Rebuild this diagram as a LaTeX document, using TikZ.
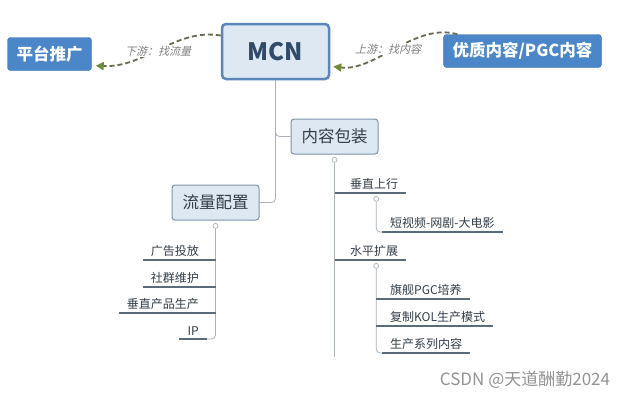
\documentclass[tikz,border=0pt]{standalone}
\usepackage{fontspec}
\setmainfont{Noto Sans CJK SC}
\newfontfamily\slantfont{Noto Sans CJK SC}[FakeSlant=0.25]
\usepackage{xcolor}
\usetikzlibrary{arrows.meta,calc}
\definecolor{topblue}{HTML}{4A86C8}
\definecolor{mcnfill}{HTML}{DDE8F3}
\definecolor{mcnline}{HTML}{5A86B8}
\definecolor{mcntext}{HTML}{2F4B68}
\definecolor{subline}{HTML}{7D93A8}
\definecolor{inkgray}{HTML}{333D48}
\definecolor{ulgray}{HTML}{5C6B7A}
\definecolor{linkgray}{HTML}{A9B1B9}
\definecolor{flowolive}{HTML}{6A6A52}
\definecolor{tipgreen}{HTML}{6E8B3D}

\begin{document}
\begin{tikzpicture}[x=1pt,y=-1pt,
  topbox/.style={rounded corners=3pt, fill=topblue, draw=topblue!85!black, text=white,
    inner xsep=9pt, minimum height=33pt, font=\fontsize{16.5}{20}\selectfont\bfseries},
  mcnbox/.style={rounded corners=4pt, fill=mcnfill, draw=mcnline, line width=2.5pt,
    minimum width=107pt, minimum height=55pt, text=mcntext, font=\fontsize{24}{28}\selectfont\bfseries},
  subbox/.style={rounded corners=3pt, fill=mcnfill, draw=subline, line width=1pt,
    minimum width=87pt, minimum height=35pt, text=inkgray, font=\fontsize{16.5}{20}\selectfont},
  leaf/.style={inner xsep=8pt, inner ysep=3pt, text=inkgray, font=\fontsize{12}{14}\selectfont},
  uline/.style={draw=ulgray, line width=1.6pt},
  link/.style={draw=linkgray, line width=0.8pt, rounded corners=4pt},
  knob/.style={circle, draw=linkgray, fill=white, line width=0.7pt, inner sep=0pt, minimum size=5pt},
  flow/.style={draw=flowolive, line width=1.8pt, dash pattern=on 5pt off 3pt,
    -{Triangle[length=8pt,width=8pt,color=tipgreen,fill=tipgreen]}},
  flowlabel/.style={fill=white, inner sep=1pt, text=gray, font=\slantfont\fontsize{11}{13}\selectfont}]
  \useasboundingbox[fill=white] (0,0) rectangle (640,400);

  % top row
  \node[mcnbox] (mcn) at (275.5,51.5) {MCN};
  \node[topbox] (plat) at (49.5,54) {平台推广};
  \node[topbox] (pgc) at (522.5,51) {优质内容/PGC内容};

  \draw[flow] ([yshift=16pt]mcn.west) .. controls (175,28) and (145,68) .. ([xshift=4pt,yshift=5pt]plat.south east);
  \node[flowlabel] (down) at (158,51) {下游：找流量};
  \draw[flow] ([xshift=14pt]pgc.north west) .. controls (415,22) and (375,72) .. ([xshift=3pt,yshift=-15pt]mcn.east);
  \node[flowlabel] (up) at (388,49) {上游：找内容};

  % second level
  \node[subbox] (pack) at (334.5,136.5) {内容包装};
  \node[subbox] (traffic) at (215.5,202.5) {流量配置};
  \draw[link] (mcn.south) |- (traffic.east);
  \draw[link] (mcn.south) |- (pack.west);

  \node[knob, anchor=north] (kpack) at ([yshift=-2.5pt]pack.south) {};
  \node[knob, anchor=north] (ktraffic) at ([yshift=-2.5pt]traffic.south) {};

  % traffic branch
  \node[leaf, anchor=south east] (ads) at (207,260) {广告投放};
  \node[leaf, anchor=south east] (group) at (207,287) {社群维护};
  \node[leaf, anchor=south east] (vprod) at (207,313) {垂直产品生产};
  \node[leaf, anchor=south east] (ip) at (207,339) {IP};
  \draw[link] (ktraffic.south) |- (ip.south east);
  \draw[uline] (ads.south west) -- (ads.south west -| ktraffic);
  \draw[uline] (group.south west) -- (group.south west -| ktraffic);
  \draw[uline] (vprod.south west) -- (vprod.south west -| ktraffic);
  \draw[uline] (ip.south west) -- (ip.south east);

  % content branch
  \coordinate (packend) at (335,357);
  \draw[link] (kpack.south) -- (kpack.south |- packend);
  \node[leaf, anchor=south west] (vert) at (342,193) {垂直上行};
  \node[leaf, anchor=south west] (horiz) at (342,260) {水平扩展};
  \draw[uline] (vert.south east) -- (vert.south east -| kpack);
  \draw[uline] (horiz.south east) -- (horiz.south east -| kpack);
  \node[knob, anchor=north] (kvert) at ([xshift=2pt,yshift=-3pt]vert.south) {};
  \node[knob, anchor=north] (khoriz) at ([xshift=2pt,yshift=-3pt]horiz.south) {};

  \node[leaf, anchor=south west] (clip) at (382,232) {短视频-网剧-大电影};
  \draw[link] (kvert.south) |- (clip.south west);
  \draw[uline] (clip.south west) -- (clip.south east);

  \node[leaf, anchor=south west] (flag) at (382,299) {旗舰PGC培养};
  \node[leaf, anchor=south west] (kol) at (382,326) {复制KOL生产模式};
  \node[leaf, anchor=south west] (series) at (382,353) {生产系列内容};
  \draw[link] (khoriz.south) |- (series.south west);
  \draw[uline] (flag.south east) -- (flag.south east -| khoriz);
  \draw[uline] (kol.south east) -- (kol.south east -| khoriz);
  \draw[uline] (series.south west) -- (series.south east);

  % watermark
  \node[text=gray!85, font=\fontsize{17}{20}\selectfont] (mark) at (525,380) {CSDN @天道酬勤2024};
\end{tikzpicture}
\end{document}
